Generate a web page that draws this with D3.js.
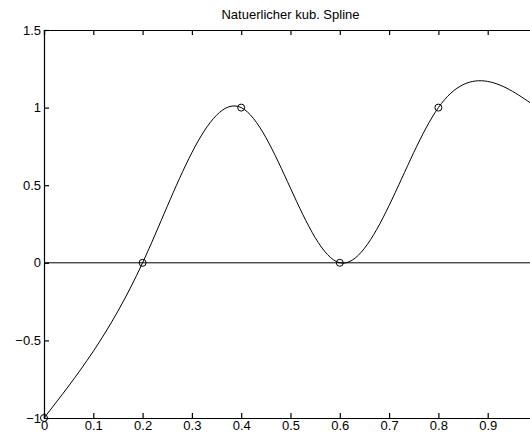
<!DOCTYPE html>
<html>
<head>
<meta charset="utf-8">
<script src="https://cdn.jsdelivr.net/npm/d3@7"></script>
<style>
  body { margin: 0; background: #fff; }
  text { font-family: "Liberation Sans", Arial, sans-serif; fill: #000; }
</style>
</head>
<body>
<div id="chart"></div>
<script>
// spline nodes
const nodeX = [0, 0.2, 0.4, 0.6, 0.8, 1.0];
const nodeY = [-1, 0, 1, 0, 1, 1];
const xTicks = [0, 0.1, 0.2, 0.3, 0.4, 0.5, 0.6, 0.7, 0.8, 0.9, 1];
const yTicks = [-1, -0.5, 0, 0.5, 1, 1.5];
const title = "Natuerlicher kub. Spline";

const w = 530, h = 434;
const margin = { top: 30, left: 44 };
const plotW = 493, plotH = 388;

const svg = d3.select("#chart").append("svg")
    .attr("width", w)
    .attr("height", h);

// SCALES
const x = d3.scaleLinear().domain([0, 1]).range([margin.left, margin.left + plotW]);
const y = d3.scaleLinear().domain([-1, 1.5]).range([margin.top + plotH, margin.top]);

const fmt = d => (d < 0 ? "\u2212" : "") + Math.abs(d);

// AXES (MATLAB style, ticks inside)
svg.append("g")
    .attr("transform", "translate(0," + y(-1) + ")")
    .call(d3.axisBottom(x).tickValues(xTicks).tickSize(-5).tickPadding(3).tickFormat(fmt))
    .call(g => g.selectAll("text").attr("font-size", 13).attr("font-family", null));

svg.append("g")
    .attr("transform", "translate(0," + y(1.5) + ")")
    .call(d3.axisTop(x).tickValues(xTicks).tickSize(-5).tickFormat(""));

svg.append("g")
    .attr("transform", "translate(" + x(0) + ",0)")
    .call(d3.axisLeft(y).tickValues(yTicks).tickSize(-5).tickPadding(3).tickFormat(fmt))
    .call(g => g.selectAll("text").attr("font-size", 13).attr("font-family", null));

svg.append("g")
    .attr("transform", "translate(" + x(1) + ",0)")
    .call(d3.axisRight(y).tickValues(yTicks).tickSize(-5).tickFormat(""));

svg.selectAll(".domain, .tick line").attr("stroke", "#000").attr("stroke-width", 1.2);

// zero line
svg.append("line")
    .attr("x1", x(0)).attr("x2", x(1))
    .attr("y1", y(0)).attr("y2", y(0))
    .attr("stroke", "#000");

// natural cubic spline through the nodes
const nodes = nodeX.map((d, i) => ({ x: d, y: nodeY[i] }));
const line = d3.line()
    .x(d => x(d.x))
    .y(d => y(d.y))
    .curve(d3.curveNatural);

svg.append("path")
    .datum(nodes)
    .attr("d", line)
    .attr("fill", "none")
    .attr("stroke", "#000")
    .attr("stroke-width", 1);

svg.selectAll(".node").data(nodes).enter()
    .append("circle")
    .attr("class", "node")
    .attr("cx", d => x(d.x))
    .attr("cy", d => y(d.y))
    .attr("r", 3.5)
    .attr("fill", "none")
    .attr("stroke", "#000");

svg.append("text")
    .attr("x", x(0.5))
    .attr("y", 19)
    .attr("text-anchor", "middle")
    .attr("font-size", 13)
    .text(title);
</script>
</body>
</html>
